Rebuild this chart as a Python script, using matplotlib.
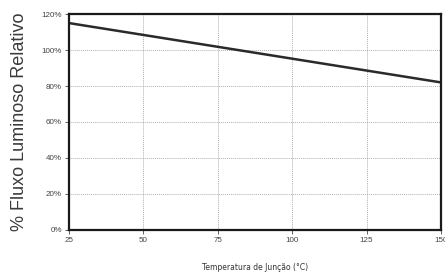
import matplotlib
matplotlib.use("Agg")
import matplotlib.pyplot as plt
from matplotlib.ticker import FuncFormatter

# data
temp_c = [25, 150]
fluxo_pct = [115, 82]
x_ticks = [25, 50, 75, 100, 125, 150]
y_ticks = [0, 20, 40, 60, 80, 100, 120]

fig = plt.figure(figsize=(4.45, 2.76), dpi=100)
fig.patch.set_facecolor("white")
ax = fig.add_axes([0.155, 0.167, 0.836, 0.782])

ax.plot(temp_c, fluxo_pct, color="#2a2a2a", lw=1.8, solid_capstyle="butt")

ax.set_xlim(25, 150)
ax.set_ylim(0, 120)
ax.set_xticks(x_ticks)
ax.set_yticks(y_ticks)
ax.yaxis.set_major_formatter(FuncFormatter(lambda v, p: f"{int(v)}%"))

ax.grid(True, color="#b0b0b0", linestyle=(0, (1, 1)), lw=0.7)
ax.set_axisbelow(True)

for s in ax.spines.values():
    s.set_linewidth(1.6)
    s.set_color("#1a1a1a")

ax.tick_params(axis="both", direction="out", length=3, width=0.6,
               labelsize=5.8, colors="#444444", pad=2)
for lab in ax.get_xticklabels() + ax.get_yticklabels():
    lab.set_family("Liberation Sans")

# y label placed by hand, as in the reference it sits far left
fig.text(0.043, 0.56, "% Fluxo Luminoso Relativo", rotation=90, fontsize=13,
         family="Liberation Sans", color="#3a3a3a", ha="center", va="center")
ax.set_xlabel("Temperatura de Junção (°C)", fontsize=5.5, family="DejaVu Sans",
              color="#333333", labelpad=14)

fig.savefig("out.png", dpi=100)
